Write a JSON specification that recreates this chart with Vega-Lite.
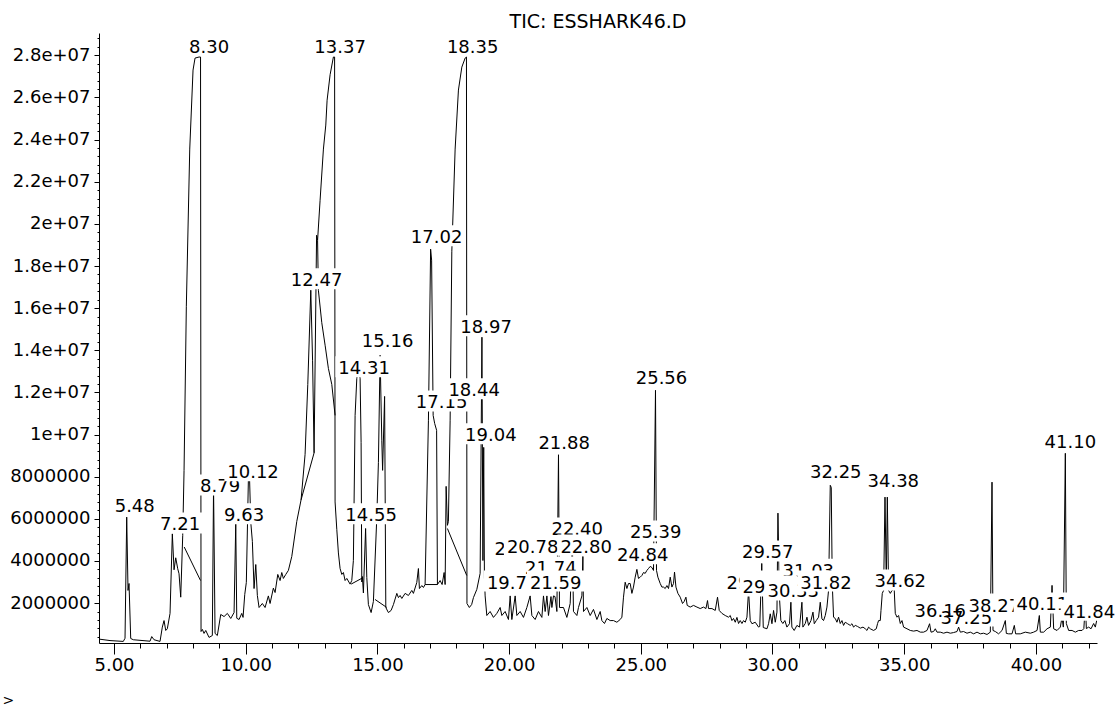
{
"$schema":"https://vega.github.io/schema/vega-lite/v6.json",
"width":998,"height":610,
"autosize":{"type":"none"},
"padding":{"left":99,"top":33,"right":23,"bottom":63},
"background":"white",
"config":{"view":{"stroke":null}},
"title":{"text":"TIC: ESSHARK46.D","font":"DejaVu Sans","fontSize":19,"fontWeight":"normal","color":"black","anchor":"middle","baseline":"alphabetic","offset":6,"dy":24},
"datasets":{
"trace":[
{"t":4.430,"v":290000,"s":"m"},{"t":4.848,"v":220000,"s":"m"},{"t":5.353,"v":180000,"s":"m"},{"t":5.418,"v":330000,"s":"m"},{"t":5.482,"v":6080000,"s":"m"},{"t":5.532,"v":2600000,"s":"m"},{"t":5.570,"v":2930000,"s":"m"},{"t":5.634,"v":320000,"s":"m"},{"t":5.733,"v":260000,"s":"m"},{"t":6.367,"v":190000,"s":"m"},{"t":6.432,"v":410000,"s":"m"},{"t":6.519,"v":260000,"s":"m"},{"t":6.747,"v":180000,"s":"m"},{"t":6.834,"v":860000,"s":"m"},{"t":6.899,"v":1170000,"s":"m"},{"t":6.964,"v":700000,"s":"m"},{"t":7.024,"v":780000,"s":"m"},{"t":7.127,"v":1510000,"s":"m"},{"t":7.214,"v":5290000,"s":"m"},{"t":7.279,"v":3580000,"s":"m"},{"t":7.343,"v":4150000,"s":"m"},{"t":7.419,"v":3630000,"s":"m"},{"t":7.469,"v":3390000,"s":"m"},{"t":7.533,"v":2280000,"s":"m"},{"t":7.609,"v":5210000,"s":"m"},{"t":7.659,"v":8300000,"s":"m"},{"t":7.746,"v":16090000,"s":"m"},{"t":7.875,"v":23550000,"s":"m"},{"t":8.000,"v":27300000,"s":"m"},{"t":8.076,"v":27870000,"s":"m"},{"t":8.228,"v":27920000,"s":"m"},{"t":8.285,"v":27920000,"s":"m"},{"t":8.304,"v":650000,"s":"m"},{"t":8.354,"v":750000,"s":"m"},{"t":8.418,"v":560000,"s":"m"},{"t":8.483,"v":700000,"s":"m"},{"t":8.608,"v":370000,"s":"m"},{"t":8.733,"v":460000,"s":"m"},{"t":8.779,"v":7490000,"s":"m"},{"t":8.836,"v":560000,"s":"m"},{"t":8.923,"v":460000,"s":"m"},{"t":9.052,"v":1460000,"s":"m"},{"t":9.178,"v":1360000,"s":"m"},{"t":9.303,"v":1510000,"s":"m"},{"t":9.432,"v":1270000,"s":"m"},{"t":9.558,"v":1550000,"s":"m"},{"t":9.622,"v":5780000,"s":"m"},{"t":9.660,"v":1280000,"s":"m"},{"t":9.747,"v":1220000,"s":"m"},{"t":9.850,"v":1510000,"s":"m"},{"t":9.899,"v":1320000,"s":"m"},{"t":9.964,"v":2410000,"s":"m"},{"t":10.024,"v":2980000,"s":"m"},{"t":10.101,"v":7820000,"s":"m"},{"t":10.146,"v":7920000,"s":"m"},{"t":10.192,"v":5830000,"s":"m"},{"t":10.253,"v":4930000,"s":"m"},{"t":10.317,"v":2690000,"s":"m"},{"t":10.382,"v":3830000,"s":"m"},{"t":10.442,"v":2360000,"s":"m"},{"t":10.507,"v":1790000,"s":"m"},{"t":10.632,"v":1980000,"s":"m"},{"t":10.735,"v":1790000,"s":"m"},{"t":10.860,"v":2340000,"s":"m"},{"t":10.925,"v":1980000,"s":"m"},{"t":11.050,"v":2710000,"s":"m"},{"t":11.115,"v":2500000,"s":"m"},{"t":11.217,"v":3360000,"s":"m"},{"t":11.305,"v":3070000,"s":"m"},{"t":11.369,"v":3450000,"s":"m"},{"t":11.430,"v":3170000,"s":"m"},{"t":11.521,"v":3360000,"s":"m"},{"t":11.620,"v":3550000,"s":"m"},{"t":11.749,"v":4210000,"s":"m"},{"t":11.939,"v":5880000,"s":"m"},{"t":12.102,"v":6900000,"s":"m"},{"t":12.254,"v":9060000,"s":"m"},{"t":12.357,"v":12380000,"s":"m"},{"t":12.471,"v":16850000,"s":"m"},{"t":12.539,"v":13500000,"s":"m"},{"t":12.596,"v":9130000,"s":"m"},{"t":12.691,"v":19460000,"s":"m"},{"t":12.729,"v":19220000,"s":"m"},{"t":12.824,"v":21120000,"s":"m"},{"t":12.950,"v":23550000,"s":"m"},{"t":13.040,"v":24690000,"s":"m"},{"t":13.090,"v":25870000,"s":"m"},{"t":13.204,"v":27080000,"s":"m"},{"t":13.329,"v":27920000,"s":"m"},{"t":13.375,"v":27920000,"s":"m"},{"t":13.393,"v":6800000,"s":"m"},{"t":13.458,"v":5500000,"s":"m"},{"t":13.519,"v":4380000,"s":"m"},{"t":13.583,"v":3640000,"s":"m"},{"t":13.648,"v":3360000,"s":"m"},{"t":13.709,"v":3450000,"s":"m"},{"t":13.773,"v":3070000,"s":"m"},{"t":13.838,"v":3170000,"s":"m"},{"t":13.963,"v":2900000,"s":"m"},{"t":14.027,"v":3070000,"s":"m"},{"t":14.088,"v":4020000,"s":"m"},{"t":14.153,"v":10910000,"s":"m"},{"t":14.218,"v":12670000,"s":"m"},{"t":14.278,"v":13140000,"s":"m"},{"t":14.343,"v":12670000,"s":"m"},{"t":14.381,"v":9630000,"s":"m"},{"t":14.407,"v":3000000,"s":"m"},{"t":14.430,"v":3260000,"s":"m"},{"t":14.468,"v":2480000,"s":"m"},{"t":14.552,"v":5540000,"s":"m"},{"t":14.597,"v":3220000,"s":"m"},{"t":14.658,"v":1930000,"s":"m"},{"t":14.761,"v":1550000,"s":"m"},{"t":14.848,"v":2080000,"s":"m"},{"t":14.977,"v":6070000,"s":"m"},{"t":15.038,"v":8680000,"s":"m"},{"t":15.102,"v":13760000,"s":"m"},{"t":15.167,"v":9730000,"s":"m"},{"t":15.197,"v":8300000,"s":"m"},{"t":15.273,"v":11810000,"s":"m"},{"t":15.319,"v":1790000,"s":"m"},{"t":15.417,"v":1550000,"s":"m"},{"t":15.520,"v":1650000,"s":"m"},{"t":15.608,"v":1930000,"s":"m"},{"t":15.737,"v":2460000,"s":"m"},{"t":15.798,"v":2260000,"s":"m"},{"t":15.862,"v":2360000,"s":"m"},{"t":15.927,"v":2220000,"s":"m"},{"t":16.052,"v":2460000,"s":"m"},{"t":16.177,"v":2360000,"s":"m"},{"t":16.306,"v":2600000,"s":"m"},{"t":16.367,"v":2460000,"s":"m"},{"t":16.496,"v":2980000,"s":"m"},{"t":16.557,"v":3640000,"s":"m"},{"t":16.595,"v":2690000,"s":"m"},{"t":16.686,"v":2830000,"s":"m"},{"t":16.747,"v":2740000,"s":"m"},{"t":16.811,"v":2880000,"s":"m"},{"t":16.937,"v":10680000,"s":"m"},{"t":17.020,"v":18800000,"s":"m"},{"t":17.058,"v":18280000,"s":"m"},{"t":17.116,"v":10910000,"s":"m"},{"t":17.173,"v":10530000,"s":"m"},{"t":17.248,"v":10200000,"s":"m"},{"t":17.279,"v":2880000,"s":"m"},{"t":17.381,"v":3070000,"s":"m"},{"t":17.457,"v":2880000,"s":"m"},{"t":17.533,"v":3450000,"s":"m"},{"t":17.571,"v":2880000,"s":"m"},{"t":17.609,"v":7540000,"s":"m"},{"t":17.658,"v":5690000,"s":"m"},{"t":17.695,"v":5870000,"s":"m"},{"t":17.761,"v":10680000,"s":"m"},{"t":17.825,"v":18700000,"s":"m"},{"t":17.951,"v":23550000,"s":"m"},{"t":18.076,"v":26350000,"s":"m"},{"t":18.205,"v":27440000,"s":"m"},{"t":18.331,"v":27870000,"s":"m"},{"t":18.381,"v":27920000,"s":"m"},{"t":18.400,"v":1980000,"s":"m"},{"t":18.490,"v":1790000,"s":"m"},{"t":18.578,"v":1930000,"s":"m"},{"t":18.646,"v":2260000,"s":"m"},{"t":18.775,"v":2650000,"s":"m"},{"t":18.900,"v":3410000,"s":"m"},{"t":18.968,"v":14620000,"s":"m"},{"t":19.006,"v":4020000,"s":"m"},{"t":19.036,"v":9390000,"s":"m"},{"t":19.063,"v":3220000,"s":"m"},{"t":19.090,"v":2340000,"s":"m"},{"t":19.154,"v":1410000,"s":"m"},{"t":19.280,"v":1600000,"s":"m"},{"t":19.405,"v":1320000,"s":"m"},{"t":19.534,"v":1510000,"s":"m"},{"t":19.660,"v":1790000,"s":"m"},{"t":19.724,"v":1410000,"s":"m"},{"t":19.850,"v":1600000,"s":"m"},{"t":19.975,"v":1220000,"s":"m"},{"t":20.040,"v":2340000,"s":"m"},{"t":20.104,"v":1220000,"s":"m"},{"t":20.230,"v":2340000,"s":"m"},{"t":20.294,"v":1410000,"s":"m"},{"t":20.420,"v":1600000,"s":"m"},{"t":20.545,"v":1320000,"s":"m"},{"t":20.674,"v":1790000,"s":"m"},{"t":20.799,"v":2340000,"s":"m"},{"t":20.864,"v":1410000,"s":"m"},{"t":20.989,"v":1220000,"s":"m"},{"t":21.115,"v":1600000,"s":"m"},{"t":21.244,"v":1320000,"s":"m"},{"t":21.305,"v":2340000,"s":"m"},{"t":21.369,"v":1600000,"s":"m"},{"t":21.434,"v":2340000,"s":"m"},{"t":21.495,"v":1410000,"s":"m"},{"t":21.590,"v":2310000,"s":"m"},{"t":21.624,"v":1790000,"s":"m"},{"t":21.685,"v":2340000,"s":"m"},{"t":21.742,"v":2310000,"s":"m"},{"t":21.814,"v":1600000,"s":"m"},{"t":21.875,"v":9040000,"s":"m"},{"t":21.913,"v":1790000,"s":"m"},{"t":22.065,"v":1790000,"s":"m"},{"t":22.193,"v":1320000,"s":"m"},{"t":22.319,"v":1980000,"s":"m"},{"t":22.402,"v":4970000,"s":"m"},{"t":22.444,"v":1600000,"s":"m"},{"t":22.573,"v":1410000,"s":"m"},{"t":22.634,"v":1790000,"s":"m"},{"t":22.763,"v":2340000,"s":"m"},{"t":22.801,"v":4210000,"s":"m"},{"t":22.824,"v":1600000,"s":"m"},{"t":22.953,"v":1790000,"s":"m"},{"t":23.078,"v":1410000,"s":"m"},{"t":23.203,"v":1700000,"s":"m"},{"t":23.333,"v":1220000,"s":"m"},{"t":23.458,"v":1600000,"s":"m"},{"t":23.522,"v":1170000,"s":"m"},{"t":23.621,"v":1030000,"s":"m"},{"t":23.712,"v":1270000,"s":"m"},{"t":23.837,"v":1170000,"s":"m"},{"t":23.963,"v":1170000,"s":"m"},{"t":24.092,"v":1090000,"s":"m"},{"t":24.217,"v":1220000,"s":"m"},{"t":24.282,"v":1330000,"s":"m"},{"t":24.343,"v":2280000,"s":"m"},{"t":24.407,"v":2990000,"s":"m"},{"t":24.472,"v":2690000,"s":"m"},{"t":24.533,"v":2930000,"s":"m"},{"t":24.597,"v":2930000,"s":"m"},{"t":24.662,"v":2460000,"s":"m"},{"t":24.722,"v":2760000,"s":"m"},{"t":24.787,"v":3230000,"s":"m"},{"t":24.851,"v":3600000,"s":"m"},{"t":24.912,"v":3170000,"s":"m"},{"t":24.977,"v":3230000,"s":"m"},{"t":25.041,"v":3310000,"s":"m"},{"t":25.102,"v":3450000,"s":"m"},{"t":25.166,"v":3410000,"s":"m"},{"t":25.231,"v":3550000,"s":"m"},{"t":25.292,"v":3640000,"s":"m"},{"t":25.357,"v":3740000,"s":"m"},{"t":25.421,"v":3690000,"s":"m"},{"t":25.482,"v":3550000,"s":"m"},{"t":25.558,"v":12100000,"s":"m"},{"t":25.596,"v":3550000,"s":"m"},{"t":25.649,"v":3230000,"s":"m"},{"t":25.737,"v":2930000,"s":"m"},{"t":25.801,"v":2760000,"s":"m"},{"t":25.862,"v":2760000,"s":"m"},{"t":25.927,"v":2690000,"s":"m"},{"t":25.991,"v":2830000,"s":"m"},{"t":26.052,"v":2690000,"s":"m"},{"t":26.117,"v":3230000,"s":"m"},{"t":26.181,"v":2760000,"s":"m"},{"t":26.242,"v":2930000,"s":"m"},{"t":26.280,"v":3470000,"s":"m"},{"t":26.334,"v":2760000,"s":"m"},{"t":26.409,"v":2460000,"s":"m"},{"t":26.497,"v":2280000,"s":"m"},{"t":26.584,"v":1980000,"s":"m"},{"t":26.648,"v":2080000,"s":"m"},{"t":26.713,"v":2280000,"s":"m"},{"t":26.762,"v":1890000,"s":"m"},{"t":26.876,"v":1810000,"s":"m"},{"t":27.001,"v":1890000,"s":"m"},{"t":27.131,"v":1810000,"s":"m"},{"t":27.256,"v":1740000,"s":"m"},{"t":27.381,"v":1810000,"s":"m"},{"t":27.473,"v":1740000,"s":"m"},{"t":27.533,"v":2120000,"s":"m"},{"t":27.572,"v":1740000,"s":"m"},{"t":27.701,"v":1740000,"s":"m"},{"t":27.826,"v":1650000,"s":"m"},{"t":27.913,"v":2280000,"s":"m"},{"t":27.978,"v":1650000,"s":"m"},{"t":28.080,"v":1510000,"s":"m"},{"t":28.206,"v":1410000,"s":"m"},{"t":28.331,"v":1330000,"s":"m"},{"t":28.396,"v":1410000,"s":"m"},{"t":28.460,"v":1170000,"s":"m"},{"t":28.521,"v":1270000,"s":"m"},{"t":28.586,"v":1090000,"s":"m"},{"t":28.650,"v":1320000,"s":"m"},{"t":28.711,"v":1030000,"s":"m"},{"t":28.775,"v":1170000,"s":"m"},{"t":28.840,"v":1030000,"s":"m"},{"t":28.901,"v":1170000,"s":"m"},{"t":28.966,"v":1090000,"s":"m"},{"t":29.030,"v":1330000,"s":"m"},{"t":29.091,"v":2600000,"s":"m"},{"t":29.155,"v":1170000,"s":"m"},{"t":29.220,"v":1020000,"s":"m"},{"t":29.345,"v":1090000,"s":"m"},{"t":29.471,"v":860000,"s":"m"},{"t":29.516,"v":890000,"s":"m"},{"t":29.592,"v":3880000,"s":"m"},{"t":29.649,"v":840000,"s":"m"},{"t":29.790,"v":780000,"s":"m"},{"t":29.850,"v":1020000,"s":"m"},{"t":29.915,"v":1490000,"s":"m"},{"t":29.979,"v":1020000,"s":"m"},{"t":30.040,"v":1650000,"s":"m"},{"t":30.105,"v":1090000,"s":"m"},{"t":30.169,"v":1570000,"s":"m"},{"t":30.207,"v":6270000,"s":"m"},{"t":30.264,"v":2280000,"s":"m"},{"t":30.317,"v":1170000,"s":"m"},{"t":30.393,"v":1030000,"s":"m"},{"t":30.470,"v":1170000,"s":"m"},{"t":30.546,"v":860000,"s":"m"},{"t":30.645,"v":1020000,"s":"m"},{"t":30.698,"v":2040000,"s":"m"},{"t":30.736,"v":860000,"s":"m"},{"t":30.824,"v":700000,"s":"m"},{"t":30.927,"v":940000,"s":"m"},{"t":31.026,"v":860000,"s":"m"},{"t":31.117,"v":2040000,"s":"m"},{"t":31.154,"v":860000,"s":"m"},{"t":31.244,"v":1030000,"s":"m"},{"t":31.308,"v":1330000,"s":"m"},{"t":31.369,"v":940000,"s":"m"},{"t":31.460,"v":1170000,"s":"m"},{"t":31.536,"v":1570000,"s":"m"},{"t":31.586,"v":1020000,"s":"m"},{"t":31.662,"v":1170000,"s":"m"},{"t":31.749,"v":1330000,"s":"m"},{"t":31.813,"v":2040000,"s":"m"},{"t":31.877,"v":1250000,"s":"m"},{"t":31.938,"v":1170000,"s":"m"},{"t":32.003,"v":1410000,"s":"m"},{"t":32.067,"v":1810000,"s":"m"},{"t":32.128,"v":2600000,"s":"m"},{"t":32.193,"v":7590000,"s":"m"},{"t":32.231,"v":7490000,"s":"m"},{"t":32.269,"v":2930000,"s":"m"},{"t":32.318,"v":1330000,"s":"m"},{"t":32.383,"v":1270000,"s":"m"},{"t":32.447,"v":1090000,"s":"m"},{"t":32.508,"v":1330000,"s":"m"},{"t":32.572,"v":1030000,"s":"m"},{"t":32.637,"v":1170000,"s":"m"},{"t":32.698,"v":940000,"s":"m"},{"t":32.762,"v":1090000,"s":"m"},{"t":32.850,"v":1020000,"s":"m"},{"t":32.952,"v":940000,"s":"m"},{"t":33.017,"v":1020000,"s":"m"},{"t":33.078,"v":860000,"s":"m"},{"t":33.143,"v":940000,"s":"m"},{"t":33.230,"v":890000,"s":"m"},{"t":33.333,"v":810000,"s":"m"},{"t":33.436,"v":860000,"s":"m"},{"t":33.522,"v":780000,"s":"m"},{"t":33.587,"v":700000,"s":"m"},{"t":33.648,"v":860000,"s":"m"},{"t":33.712,"v":780000,"s":"m"},{"t":33.838,"v":700000,"s":"m"},{"t":33.940,"v":780000,"s":"m"},{"t":33.990,"v":1030000,"s":"m"},{"t":34.028,"v":1170000,"s":"m"},{"t":34.092,"v":1170000,"s":"m"},{"t":34.119,"v":1650000,"s":"m"},{"t":34.168,"v":2460000,"s":"m"},{"t":34.218,"v":2600000,"s":"m"},{"t":34.271,"v":7030000,"s":"m"},{"t":34.321,"v":2930000,"s":"m"},{"t":34.359,"v":7030000,"s":"m"},{"t":34.408,"v":2600000,"s":"m"},{"t":34.473,"v":2460000,"s":"m"},{"t":34.537,"v":2600000,"s":"m"},{"t":34.620,"v":2690000,"s":"m"},{"t":34.662,"v":1510000,"s":"m"},{"t":34.727,"v":1330000,"s":"m"},{"t":34.787,"v":1410000,"s":"m"},{"t":34.852,"v":1030000,"s":"m"},{"t":34.916,"v":1170000,"s":"m"},{"t":34.977,"v":860000,"s":"m"},{"t":35.106,"v":780000,"s":"m"},{"t":35.232,"v":700000,"s":"m"},{"t":35.357,"v":670000,"s":"m"},{"t":35.486,"v":700000,"s":"m"},{"t":35.611,"v":620000,"s":"m"},{"t":35.737,"v":620000,"s":"m"},{"t":35.866,"v":700000,"s":"m"},{"t":35.964,"v":1020000,"s":"m"},{"t":36.018,"v":620000,"s":"m"},{"t":36.116,"v":650000,"s":"m"},{"t":36.181,"v":780000,"s":"m"},{"t":36.245,"v":620000,"s":"m"},{"t":36.370,"v":620000,"s":"m"},{"t":36.496,"v":570000,"s":"m"},{"t":36.625,"v":620000,"s":"m"},{"t":36.750,"v":570000,"s":"m"},{"t":36.876,"v":600000,"s":"m"},{"t":37.005,"v":650000,"s":"m"},{"t":37.066,"v":860000,"s":"m"},{"t":37.130,"v":620000,"s":"m"},{"t":37.255,"v":650000,"s":"m"},{"t":37.384,"v":570000,"s":"m"},{"t":37.510,"v":620000,"s":"m"},{"t":37.636,"v":540000,"s":"m"},{"t":37.765,"v":620000,"s":"m"},{"t":37.890,"v":540000,"s":"m"},{"t":38.016,"v":570000,"s":"m"},{"t":38.145,"v":510000,"s":"m"},{"t":38.270,"v":620000,"s":"m"},{"t":38.334,"v":7740000,"s":"m"},{"t":38.372,"v":700000,"s":"m"},{"t":38.460,"v":650000,"s":"m"},{"t":38.585,"v":540000,"s":"m"},{"t":38.714,"v":700000,"s":"m"},{"t":38.840,"v":1170000,"s":"m"},{"t":38.878,"v":560000,"s":"m"},{"t":38.965,"v":540000,"s":"m"},{"t":39.094,"v":540000,"s":"m"},{"t":39.181,"v":940000,"s":"m"},{"t":39.231,"v":540000,"s":"m"},{"t":39.409,"v":540000,"s":"m"},{"t":39.599,"v":620000,"s":"m"},{"t":39.789,"v":570000,"s":"m"},{"t":39.915,"v":620000,"s":"m"},{"t":40.044,"v":700000,"s":"m"},{"t":40.131,"v":1410000,"s":"m"},{"t":40.169,"v":620000,"s":"m"},{"t":40.295,"v":620000,"s":"m"},{"t":40.424,"v":780000,"s":"m"},{"t":40.549,"v":860000,"s":"m"},{"t":40.613,"v":2840000,"s":"m"},{"t":40.674,"v":780000,"s":"m"},{"t":40.803,"v":700000,"s":"m"},{"t":40.928,"v":860000,"s":"m"},{"t":40.992,"v":1330000,"s":"m"},{"t":41.042,"v":860000,"s":"m"},{"t":41.118,"v":9110000,"s":"m"},{"t":41.156,"v":1030000,"s":"m"},{"t":41.244,"v":700000,"s":"m"},{"t":41.373,"v":700000,"s":"m"},{"t":41.498,"v":620000,"s":"m"},{"t":41.624,"v":700000,"s":"m"},{"t":41.753,"v":700000,"s":"m"},{"t":41.821,"v":790000,"s":"m"},{"t":41.878,"v":1970000,"s":"m"},{"t":41.916,"v":790000,"s":"m"},{"t":42.003,"v":860000,"s":"m"},{"t":42.094,"v":780000,"s":"m"},{"t":42.193,"v":1030000,"s":"m"},{"t":42.257,"v":860000,"s":"m"},{"t":42.321,"v":1250000,"s":"m"},
{"t":7.666,"v":4660000,"s":"b1"},{"t":8.285,"v":3070000,"s":"b1"},
{"t":12.102,"v":6900000,"s":"b2"},{"t":12.596,"v":9130000,"s":"b2"},
{"t":12.729,"v":19220000,"s":"b3"},{"t":12.759,"v":16850000,"s":"b3"},{"t":12.888,"v":15310000,"s":"b3"},{"t":13.014,"v":14240000,"s":"b3"},{"t":13.139,"v":13140000,"s":"b3"},{"t":13.268,"v":12380000,"s":"b3"},{"t":13.393,"v":10910000,"s":"b3"},
{"t":14.001,"v":2900000,"s":"b4"},{"t":14.430,"v":3190000,"s":"b4"},
{"t":14.912,"v":2170000,"s":"b5"},{"t":15.356,"v":1790000,"s":"b5"},
{"t":16.811,"v":2880000,"s":"b6"},{"t":17.279,"v":2880000,"s":"b6"},
{"t":17.658,"v":5540000,"s":"b7"},{"t":18.391,"v":3310000,"s":"b7"}
],
"labels":[
{"t":9.026,"v":7250000,"label":"8.79","tier":"A"},
{"t":17.438,"v":11240000,"label":"17.15","tier":"A"},
{"t":20.420,"v":4260000,"label":"20.15","tier":"A"},
{"t":20.135,"v":2690000,"label":"19.75","tier":"A"},
{"t":21.585,"v":3360000,"label":"21.74","tier":"A"},
{"t":29.231,"v":2690000,"label":"29.04","tier":"A"},
{"t":31.358,"v":3250000,"label":"31.03","tier":"A"},
{"t":32.402,"v":7920000,"label":"32.25","tier":"A"},
{"t":36.371,"v":1320000,"label":"36.16","tier":"A"},
{"t":37.359,"v":1030000,"label":"37.25","tier":"A"},
{"t":5.786,"v":6300000,"label":"5.48","tier":"B"},
{"t":7.507,"v":5450000,"label":"7.21","tier":"B"},
{"t":8.608,"v":28110000,"label":"8.30","tier":"B"},
{"t":10.279,"v":7920000,"label":"10.12","tier":"B"},
{"t":9.937,"v":5880000,"label":"9.63","tier":"B"},
{"t":12.691,"v":17040000,"label":"12.47","tier":"B"},
{"t":13.583,"v":28110000,"label":"13.37","tier":"B"},
{"t":14.495,"v":12860000,"label":"14.31","tier":"B"},
{"t":15.387,"v":14140000,"label":"15.16","tier":"B"},
{"t":14.761,"v":5880000,"label":"14.55","tier":"B"},
{"t":17.248,"v":19080000,"label":"17.02","tier":"B"},
{"t":18.616,"v":28110000,"label":"18.35","tier":"B"},
{"t":19.128,"v":14810000,"label":"18.97","tier":"B"},
{"t":18.673,"v":11820000,"label":"18.44","tier":"B"},
{"t":19.307,"v":9680000,"label":"19.04","tier":"B"},
{"t":22.091,"v":9300000,"label":"21.88","tier":"B"},
{"t":22.585,"v":5210000,"label":"22.40","tier":"B"},
{"t":20.894,"v":4400000,"label":"20.78","tier":"B"},
{"t":21.768,"v":2690000,"label":"21.59","tier":"B"},
{"t":25.786,"v":12380000,"label":"25.56","tier":"B"},
{"t":25.566,"v":5070000,"label":"25.39","tier":"B"},
{"t":25.072,"v":3980000,"label":"24.84","tier":"B"},
{"t":29.820,"v":4120000,"label":"29.57","tier":"B"},
{"t":29.839,"v":2460000,"label":"29.33","tier":"B"},
{"t":34.586,"v":7490000,"label":"34.38","tier":"B"},
{"t":34.852,"v":2740000,"label":"34.62","tier":"B"},
{"t":38.422,"v":1600000,"label":"38.27","tier":"B"},
{"t":41.308,"v":9350000,"label":"41.10","tier":"B"},
{"t":22.926,"v":4400000,"label":"22.80","tier":"C"},
{"t":40.245,"v":1650000,"label":"40.11","tier":"C"},
{"t":30.788,"v":2270000,"label":"30.33","tier":"C"},
{"t":42.030,"v":1300000,"label":"41.84","tier":"D"},
{"t":32.030,"v":2690000,"label":"31.82","tier":"D"}
]
},
"encoding":{
"x":{"field":"t","type":"quantitative","title":">","scale":{"domain":[4.43,42.32],"nice":false,"zero":false},
"axis":{"values":[5,6,7,8,9,10,11,12,13,14,15,16,17,18,19,20,21,22,23,24,25,26,27,28,29,30,31,32,33,34,35,36,37,38,39,40,41,42],
"labelExpr":"datum.value % 5 === 0 ? format(datum.value, '.2f') : ''",
"tickSize":{"condition":{"test":"datum.value % 5 === 0","value":11},"value":5},
"grid":false,"domainColor":"black","tickColor":"black","labelColor":"black","labelFont":"DejaVu Sans","labelFontSize":18,"labelPadding":2,"labelOverlap":false,"labelFlush":false,"labelBound":false,
"titleFont":"DejaVu Sans","titleFontSize":14,"titleFontWeight":"normal","titleColor":"black","titleX":-97,"titleY":57,"titleAlign":"left","titleBaseline":"middle","titleAnchor":"start"}},
"y":{"field":"v","type":"quantitative","title":null,"scale":{"domain":[105000,29060000],"nice":false,"zero":false},
"axis":{"values":[400000,800000,1200000,1600000,2000000,2400000,2800000,3200000,3600000,4000000,4400000,4800000,5200000,5600000,6000000,6400000,6800000,7200000,7600000,8000000,8400000,8800000,9200000,9600000,10000000,10400000,10800000,11200000,11600000,12000000,12400000,12800000,13200000,13600000,14000000,14400000,14800000,15200000,15600000,16000000,16400000,16800000,17200000,17600000,18000000,18400000,18800000,19200000,19600000,20000000,20400000,20800000,21200000,21600000,22000000,22400000,22800000,23200000,23600000,24000000,24400000,24800000,25200000,25600000,26000000,26400000,26800000,27200000,27600000,28000000,28400000,28800000],
"labelExpr":"datum.value % 2000000 === 0 ? (datum.value >= 10000000 ? format(datum.value / 10000000, '.2~') + 'e+07' : format(datum.value, 'd')) : ''",
"tickSize":{"condition":{"test":"datum.value % 2000000 === 0","value":5},"value":2},
"grid":false,"domainColor":"black","tickColor":"black","labelColor":"black","labelFont":"DejaVu Sans","labelFontSize":18,"labelPadding":4,"labelOverlap":false,"labelFlush":false,"labelBound":false}}
},
"layer":[
{"data":{"name":"trace"},"mark":{"type":"line","color":"black","strokeWidth":1,"clip":true},"encoding":{"detail":{"field":"s","type":"nominal"}}},
{"data":{"name":"labels"},"transform":[{"filter":"datum.tier === 'A'"}],"mark":{"type":"point","filled":true,"color":"white","opacity":1,"size":3600,"strokeWidth":0},"encoding":{"shape":{"condition":{"test":"length(datum.label) > 4","value":"M-0.957,0.1H0.957V-0.6H-0.957Z"},"value":"M-0.767,0.1H0.767V-0.6H-0.767Z"}}},
{"data":{"name":"labels"},"transform":[{"filter":"datum.tier === 'A'"}],"mark":{"type":"text","font":"DejaVu Sans","fontSize":18,"align":"center","baseline":"alphabetic","color":"black"},"encoding":{"text":{"field":"label"}}},
{"data":{"name":"labels"},"transform":[{"filter":"datum.tier === 'B'"}],"mark":{"type":"point","filled":true,"color":"white","opacity":1,"size":3600,"strokeWidth":0},"encoding":{"shape":{"condition":{"test":"length(datum.label) > 4","value":"M-0.957,0.1H0.957V-0.6H-0.957Z"},"value":"M-0.767,0.1H0.767V-0.6H-0.767Z"}}},
{"data":{"name":"labels"},"transform":[{"filter":"datum.tier === 'B'"}],"mark":{"type":"text","font":"DejaVu Sans","fontSize":18,"align":"center","baseline":"alphabetic","color":"black"},"encoding":{"text":{"field":"label"}}},
{"data":{"name":"labels"},"transform":[{"filter":"datum.tier === 'C'"}],"mark":{"type":"point","filled":true,"color":"white","opacity":1,"size":3600,"strokeWidth":0},"encoding":{"shape":{"condition":{"test":"length(datum.label) > 4","value":"M-0.957,0.1H0.957V-0.6H-0.957Z"},"value":"M-0.767,0.1H0.767V-0.6H-0.767Z"}}},
{"data":{"name":"labels"},"transform":[{"filter":"datum.tier === 'C'"}],"mark":{"type":"text","font":"DejaVu Sans","fontSize":18,"align":"center","baseline":"alphabetic","color":"black"},"encoding":{"text":{"field":"label"}}},
{"data":{"name":"labels"},"transform":[{"filter":"datum.tier === 'D'"}],"mark":{"type":"point","filled":true,"color":"white","opacity":1,"size":3600,"strokeWidth":0},"encoding":{"shape":{"condition":{"test":"length(datum.label) > 4","value":"M-0.957,0.1H0.957V-0.6H-0.957Z"},"value":"M-0.767,0.1H0.767V-0.6H-0.767Z"}}},
{"data":{"name":"labels"},"transform":[{"filter":"datum.tier === 'D'"}],"mark":{"type":"text","font":"DejaVu Sans","fontSize":18,"align":"center","baseline":"alphabetic","color":"black"},"encoding":{"text":{"field":"label"}}}
]
}
